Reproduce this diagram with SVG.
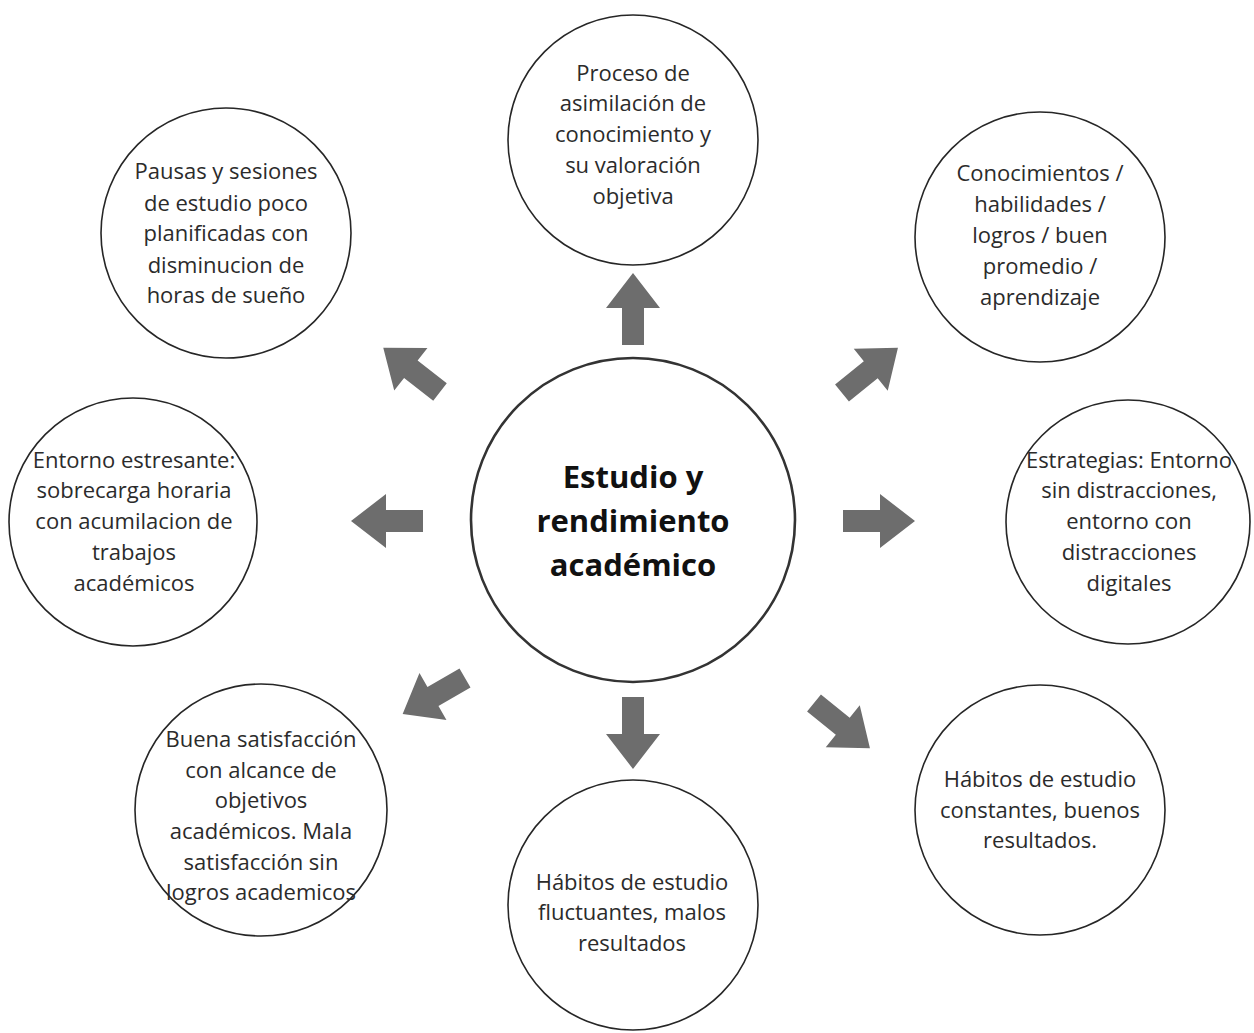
<svg xmlns="http://www.w3.org/2000/svg" width="1254" height="1033" viewBox="0 0 1254 1033">
<defs>
<style>
.c{fill:#fff;stroke:#262626;stroke-width:1.6}
.cc{fill:#fff;stroke:#333;stroke-width:2.6}
.t{font-family:"Open Sans","Liberation Sans",sans-serif;font-size:22px;fill:#2b2b2b;text-anchor:middle}
.tb{font-family:"Open Sans","Liberation Sans",sans-serif;font-size:31px;font-weight:bold;fill:#111;text-anchor:middle}
.a{fill:#6d6d6d}
</style>
<path id="arr" d="M0,-11 L37,-11 L37,-27 L72,0 L37,27 L37,11 L0,11 Z"/>
</defs>
<g id="connectors" class="a">
<use href="#arr" transform="translate(633,345) rotate(-90)"/>
<use href="#arr" transform="translate(842,393) rotate(-39)"/>
<use href="#arr" transform="translate(843,521)"/>
<use href="#arr" transform="translate(814,703) rotate(39)"/>
<use href="#arr" transform="translate(633,697) rotate(90)"/>
<use href="#arr" transform="translate(465,678) rotate(150)"/>
<use href="#arr" transform="translate(423,521) rotate(180)"/>
<use href="#arr" transform="translate(440,392) rotate(218)"/>
</g>
<g id="center">
<circle class="cc" cx="633" cy="520" r="162"/>
<text class="tb" x="633" y="488">Estudio y</text>
<text class="tb" x="633" y="532">rendimiento</text>
<text class="tb" x="633" y="576">académico</text>
</g>
<g id="n-top">
<circle class="c" cx="633" cy="140" r="125"/>
<text class="t" x="633" y="81">Proceso de</text>
<text class="t" x="633" y="111">asimilación de</text>
<text class="t" x="633" y="142">conocimiento y</text>
<text class="t" x="633" y="173">su valoración</text>
<text class="t" x="633" y="204">objetiva</text>
</g>
<g id="n-topright">
<circle class="c" cx="1040" cy="237" r="125"/>
<text class="t" x="1040" y="181">Conocimientos /</text>
<text class="t" x="1040" y="212">habilidades /</text>
<text class="t" x="1040" y="243">logros / buen</text>
<text class="t" x="1040" y="274">promedio /</text>
<text class="t" x="1040" y="305">aprendizaje</text>
</g>
<g id="n-right">
<circle class="c" cx="1128" cy="522" r="122"/>
<text class="t" x="1129" y="468">Estrategias: Entorno</text>
<text class="t" x="1129" y="498">sin distracciones,</text>
<text class="t" x="1129" y="529">entorno con</text>
<text class="t" x="1129" y="560">distracciones</text>
<text class="t" x="1129" y="591">digitales</text>
</g>
<g id="n-bottomright">
<circle class="c" cx="1040" cy="810" r="125"/>
<text class="t" x="1040" y="787">Hábitos de estudio</text>
<text class="t" x="1040" y="818">constantes, buenos</text>
<text class="t" x="1040" y="848">resultados.</text>
</g>
<g id="n-bottom">
<circle class="c" cx="633" cy="905" r="125"/>
<text class="t" x="632" y="890">Hábitos de estudio</text>
<text class="t" x="632" y="920">fluctuantes, malos</text>
<text class="t" x="632" y="951">resultados</text>
</g>
<g id="n-bottomleft">
<circle class="c" cx="261" cy="810" r="126"/>
<text class="t" x="261" y="747">Buena satisfacción</text>
<text class="t" x="261" y="778">con alcance de</text>
<text class="t" x="261" y="808">objetivos</text>
<text class="t" x="261" y="839">académicos. Mala</text>
<text class="t" x="261" y="870">satisfacción sin</text>
<text class="t" x="261" y="900">logros academicos</text>
</g>
<g id="n-left">
<circle class="c" cx="133" cy="522" r="124"/>
<text class="t" x="134" y="468">Entorno estresante:</text>
<text class="t" x="134" y="498">sobrecarga horaria</text>
<text class="t" x="134" y="529">con acumilacion de</text>
<text class="t" x="134" y="560">trabajos</text>
<text class="t" x="134" y="591">académicos</text>
</g>
<g id="n-topleft">
<circle class="c" cx="226" cy="233" r="125"/>
<text class="t" x="226" y="179">Pausas y sesiones</text>
<text class="t" x="226" y="211">de estudio poco</text>
<text class="t" x="226" y="241">planificadas con</text>
<text class="t" x="226" y="273">disminucion de</text>
<text class="t" x="226" y="303">horas de sueño</text>
</g>
</svg>
